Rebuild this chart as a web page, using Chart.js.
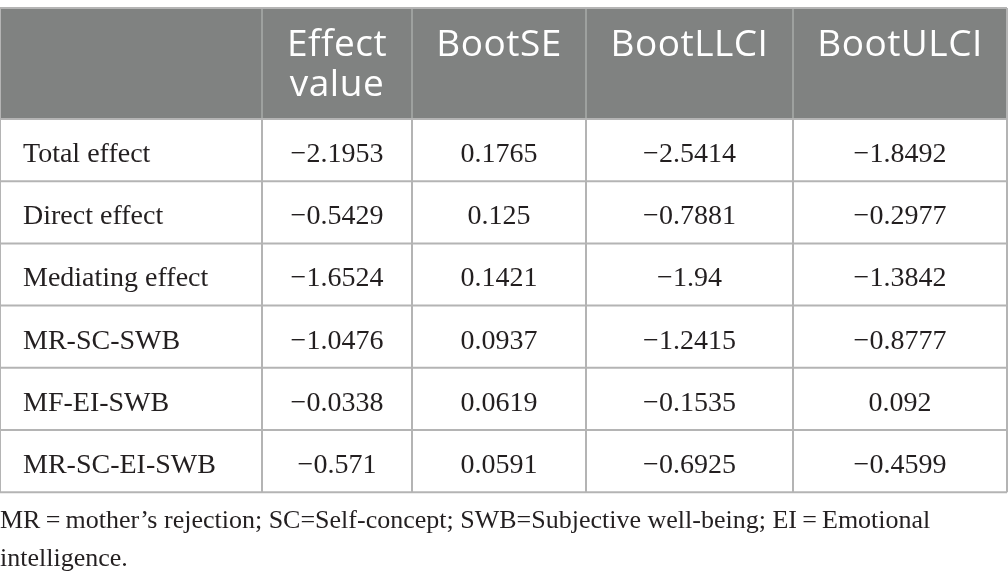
<!DOCTYPE html>
<html>
<head>
<meta charset="utf-8">
<script src="https://cdn.jsdelivr.net/npm/chart.js@4.4.1/dist/chart.umd.min.js"></script>
<style>
  html, body { margin: 0; padding: 0; background: #ffffff; }
  #wrap { width: 1008px; height: 585px; position: relative; }
</style>
</head>
<body>
<div id="wrap"><canvas id="c"></canvas></div>
<script>
// ---- data ----
const columnHeaders = [['Effect', 'value'], ['BootSE'], ['BootLLCI'], ['BootULCI']];
const rowLabels = ['Total effect', 'Direct effect', 'Mediating effect', 'MR-SC-SWB', 'MF-EI-SWB', 'MR-SC-EI-SWB'];
const effectValue = [-2.1953, -0.5429, -1.6524, -1.0476, -0.0338, -0.571];
const bootSE = [0.1765, 0.125, 0.1421, 0.0937, 0.0619, 0.0591];
const bootLLCI = [-2.5414, -0.7881, -1.94, -1.2415, -0.1535, -0.6925];
const bootULCI = [-1.8492, -0.2977, -1.3842, -0.8777, 0.092, -0.4599];
const noteLines = [
  'MR\u2009=\u2009mother\u2019s rejection; SC=Self-concept; SWB=Subjective well-being; EI\u2009=\u2009Emotional',
  'intelligence.'
];

// ---- layout (table geometry in scale units) ----
const LAYOUT = {
  width: 1008, height: 585,
  colEdges: [0, 262, 412, 586, 793, 1007],
  tableTop: 8, headerBottom: 119, rowHeight: 62.2,
  headerBaselines: [56, 96],
  bodyBaselineOffset: 43,
  firstColPad: 23,
  noteBaselines: [528, 566]
};
const STYLE = {
  headerBg: '#808281', headerText: '#ffffff', headerSep: '#a9abaa',
  border: '#b4b4b4', bodyText: '#231f20',
  headerFont: '37px "Open Sans"', headerSpacing: '0.5px',
  bodyFont: '28px "Liberation Serif"', noteFont: '26px "Liberation Serif"'
};

const series = [effectValue, bootSE, bootLLCI, bootULCI];
const fmt = v => String(v).replace('-', '\u2212');

// cell anchor points (column centre, row baseline) built from data
const points = [];
series.forEach((arr, ci) => arr.forEach((v, ri) => {
  points.push({
    x: (LAYOUT.colEdges[ci + 1] + LAYOUT.colEdges[ci + 2]) / 2,
    y: LAYOUT.headerBottom + ri * LAYOUT.rowHeight + LAYOUT.bodyBaselineOffset,
    text: fmt(v)
  });
}));
rowLabels.forEach((lab, ri) => points.push({
  x: LAYOUT.colEdges[0] + LAYOUT.firstColPad,
  y: LAYOUT.headerBottom + ri * LAYOUT.rowHeight + LAYOUT.bodyBaselineOffset,
  text: lab, left: true
}));

const tablePlugin = {
  id: 'tablePlugin',
  beforeDatasetsDraw(chart) {
    const { ctx, scales: { x, y } } = chart;
    const px = v => x.getPixelForValue(v), py = v => y.getPixelForValue(v);
    const E = LAYOUT.colEdges;
    const nRows = rowLabels.length;
    const bottom = LAYOUT.headerBottom + nRows * LAYOUT.rowHeight;
    ctx.save();
    // header background
    ctx.fillStyle = STYLE.headerBg;
    ctx.fillRect(px(E[0]), py(LAYOUT.tableTop), px(E[E.length - 1]) - px(E[0]), py(LAYOUT.headerBottom) - py(LAYOUT.tableTop));
    // header separators
    ctx.strokeStyle = STYLE.headerSep; ctx.lineWidth = 1.5;
    for (let i = 1; i < E.length - 1; i++) {
      ctx.beginPath(); ctx.moveTo(px(E[i]), py(LAYOUT.tableTop)); ctx.lineTo(px(E[i]), py(LAYOUT.headerBottom)); ctx.stroke();
    }
    // body lines
    ctx.strokeStyle = STYLE.border; ctx.lineWidth = 2;
    for (let r = 0; r <= nRows; r++) {
      const yy = py(LAYOUT.headerBottom + r * LAYOUT.rowHeight);
      ctx.beginPath(); ctx.moveTo(px(E[0]), yy); ctx.lineTo(px(E[E.length - 1]), yy); ctx.stroke();
    }
    ctx.beginPath(); ctx.moveTo(px(E[0]), py(LAYOUT.tableTop)); ctx.lineTo(px(E[E.length - 1]), py(LAYOUT.tableTop)); ctx.stroke();
    for (let i = 0; i < E.length; i++) {
      const top = (i === 0 || i === E.length - 1) ? LAYOUT.tableTop : LAYOUT.headerBottom;
      ctx.beginPath(); ctx.moveTo(px(E[i]), py(top)); ctx.lineTo(px(E[i]), py(bottom)); ctx.stroke();
    }
    // header text
    ctx.fillStyle = STYLE.headerText; ctx.font = STYLE.headerFont;
    if ('letterSpacing' in ctx) ctx.letterSpacing = STYLE.headerSpacing;
    ctx.textAlign = 'center'; ctx.textBaseline = 'alphabetic';
    columnHeaders.forEach((lines, ci) => {
      const cx = (E[ci + 1] + E[ci + 2]) / 2;
      lines.forEach((t, li) => ctx.fillText(t, px(cx), py(LAYOUT.headerBaselines[li])));
    });
    if ('letterSpacing' in ctx) ctx.letterSpacing = '0px';
    // footnote
    ctx.fillStyle = STYLE.bodyText; ctx.font = STYLE.noteFont; ctx.textAlign = 'left';
    noteLines.forEach((t, i) => ctx.fillText(t, px(0), py(LAYOUT.noteBaselines[i])));
    ctx.restore();
  },
  afterDatasetsDraw(chart) {
    const { ctx } = chart;
    const meta = chart.getDatasetMeta(0);
    ctx.save();
    ctx.fillStyle = STYLE.bodyText; ctx.font = STYLE.bodyFont; ctx.textBaseline = 'alphabetic';
    meta.data.forEach((el, i) => {
      const p = points[i];
      ctx.textAlign = p.left ? 'left' : 'center';
      ctx.fillText(p.text, el.x, el.y);
    });
    ctx.restore();
  }
};

new Chart(document.getElementById('c'), {
  type: 'scatter',
  data: { datasets: [{ data: points, pointRadius: 0, pointHoverRadius: 0 }] },
  options: {
    responsive: true, maintainAspectRatio: false, animation: false,
    layout: { padding: 0 },
    events: [],
    plugins: { legend: { display: false }, tooltip: { enabled: false } },
    scales: {
      x: { type: 'linear', display: false, min: 0, max: LAYOUT.width },
      y: { type: 'linear', display: false, min: 0, max: LAYOUT.height, reverse: true }
    }
  },
  plugins: [tablePlugin]
});
</script>
</body>
</html>
